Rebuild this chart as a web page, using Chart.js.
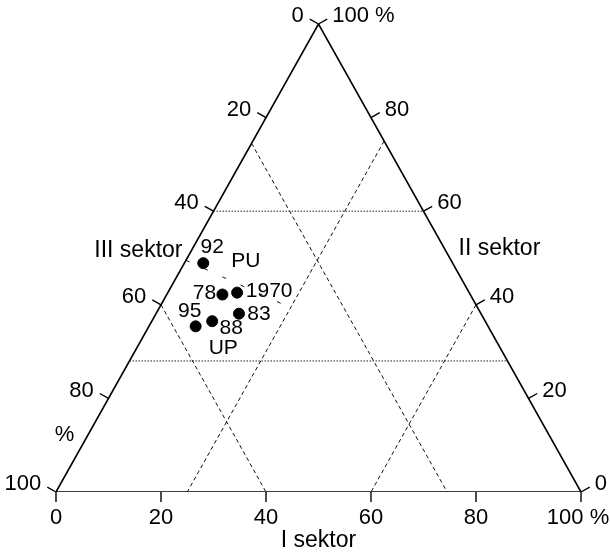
<!DOCTYPE html>
<html>
<head>
<meta charset="utf-8">
<script src="https://cdn.jsdelivr.net/npm/chart.js@4"></script>
<style>
  body { margin: 0; background: #fff; }
</style>
</head>
<body>
<canvas id="ternary" width="610" height="553"></canvas>
<script>
// employment share by sector (%), per year
const years = ['1970', '78', '83', '88', '92', '95'];
const sectorI = [13.2, 10.6, 15.8, 11.5, 3.6, 8.9];
const sectorII = [42.6, 42.2, 38.1, 36.5, 48.9, 35.4];
const sectorIII = [44.2, 47.2, 46.1, 52.0, 47.5, 55.7];

const tickValues = [0, 20, 40, 60, 80, 100];

// guide lines (constant share of one sector)
const guideI = [25, 60];
const guideII = [60, 28];
const guideIII = [25.5, 60];

// PU / UP divider, given as I and II shares
const dividerI = [0, 23.7];
const dividerII = [49.5, 39.9];

// zone names
const zoneNames = ['PU', 'UP'];
const zoneI = [11.5, 16.5];
const zoneII = [49.3, 30.7];

// I along the base, II is the height, III = 100 - I - II
function tern(i, ii) {
    return { x: i + ii / 2, y: ii };
}

function lineSet(points, dash, color) {
    return {
        data: points,
        showLine: true,
        pointRadius: 0,
        borderColor: color,
        borderWidth: 1,
        borderDash: dash,
        fill: false
    };
}

var datasets = [];
guideI.forEach(v => datasets.push(lineSet([tern(v, 100 - v), tern(v, 0)], [4, 3], '#111')));
guideIII.forEach(v => datasets.push(lineSet([tern(0, 100 - v), tern(100 - v, 0)], [4, 3], '#111')));
guideII.forEach(v => datasets.push(lineSet([tern(0, v), tern(100 - v, v)], [1.5, 1.5], '#222')));
datasets.push(lineSet(dividerI.map((v, k) => tern(v, dividerII[k])), [4, 16], '#111'));

var frame = lineSet([tern(0, 0), tern(100, 0), tern(0, 100), tern(0, 0)], [], '#000');
frame.borderWidth = 1.6;
datasets.push(frame);

datasets.push({
    data: years.map((yr, k) => tern(sectorI[k], sectorII[k])),
    pointRadius: 5.5,
    pointBorderWidth: 1,
    backgroundColor: '#000',
    borderColor: '#000'
});

// label offsets in pixels, in the order of years
const pointLabelOffsets = [[32, -1], [-18, -1], [20, 1], [19, 7], [9, -16], [-6, -15]];

const ternaryAxes = {
    id: 'ternaryAxes',
    afterDatasetsDraw(chart) {
        const ctx = chart.ctx;
        const sx = chart.scales.x, sy = chart.scales.y;
        const px = p => [sx.getPixelForValue(p.x), sy.getPixelForValue(p.y)];
        const seg = (a, b, c, d) => { ctx.beginPath(); ctx.moveTo(a, b); ctx.lineTo(c, d); ctx.stroke(); };
        const L = 10, nx = 0.872, ny = 0.49;

        ctx.save();
        ctx.strokeStyle = '#000';
        ctx.lineWidth = 1.4;
        ctx.fillStyle = '#000';
        ctx.textBaseline = 'middle';
        ctx.font = '22px "Liberation Sans", Arial, sans-serif';

        tickValues.forEach(v => {
            // I sektor, bottom
            let [bx, by] = px(tern(v, 0));
            seg(bx, by, bx, by + L);
            ctx.textAlign = 'center';
            ctx.fillText(v === 100 ? '100 %' : String(v), v === 100 ? bx - 3 : bx, by + L + 16);

            // III sektor, left edge, 0 at the apex
            let [lx, ly] = px(tern(0, 100 - v));
            seg(lx, ly, lx - nx * L, ly - ny * L);
            ctx.textAlign = 'right';
            ctx.fillText(String(v), lx - nx * L - 6, ly - ny * L - 3);

            // II sektor, right edge, 100 at the apex
            let [rx, ry] = px(tern(100 - v, v));
            seg(rx, ry, rx + nx * L, ry - ny * L);
            ctx.textAlign = 'left';
            ctx.fillText(v === 100 ? '100 %' : String(v), rx + nx * L + 5, ry - ny * L - 3);
        });

        // sector titles
        ctx.font = '23px "Liberation Sans", Arial, sans-serif';
        let [ax, ay] = px(tern(0, 52));
        ctx.textAlign = 'right';
        ctx.fillText('III sektor', ax - 10, ay + 2);
        let [cx, cy] = px(tern(48, 52));
        ctx.textAlign = 'left';
        ctx.fillText('II sektor', cx + 14, cy);
        let [mx, my] = px(tern(50, 0));
        ctx.textAlign = 'center';
        ctx.fillText('I sektor', mx, my + 49);
        ctx.font = '22px "Liberation Sans", Arial, sans-serif';
        let [qx, qy] = px(tern(0, 12));
        ctx.fillText('%', qx - 23, qy - 1);

        // point and zone labels
        ctx.font = '21px "Liberation Sans", Arial, sans-serif';
        ctx.textAlign = 'center';
        years.forEach((yr, k) => {
            let [x, y] = px(tern(sectorI[k], sectorII[k]));
            ctx.fillText(yr, x + pointLabelOffsets[k][0], y + pointLabelOffsets[k][1]);
        });
        zoneNames.forEach((name, k) => {
            let [x, y] = px(tern(zoneI[k], zoneII[k]));
            ctx.fillText(name, x, y);
        });
        ctx.restore();
    }
};

new Chart(document.getElementById('ternary').getContext('2d'), {
    type: 'scatter',
    data: { datasets: datasets },
    options: {
        responsive: false,
        animation: false,
        layout: { padding: { left: 56, right: 29, top: 24, bottom: 61 } },
        scales: {
            x: { type: 'linear', min: 0, max: 100, display: false },
            y: { type: 'linear', min: 0, max: 100, display: false }
        },
        plugins: {
            legend: { display: false },
            tooltip: { enabled: false }
        }
    },
    plugins: [ternaryAxes]
});
</script>
</body>
</html>
